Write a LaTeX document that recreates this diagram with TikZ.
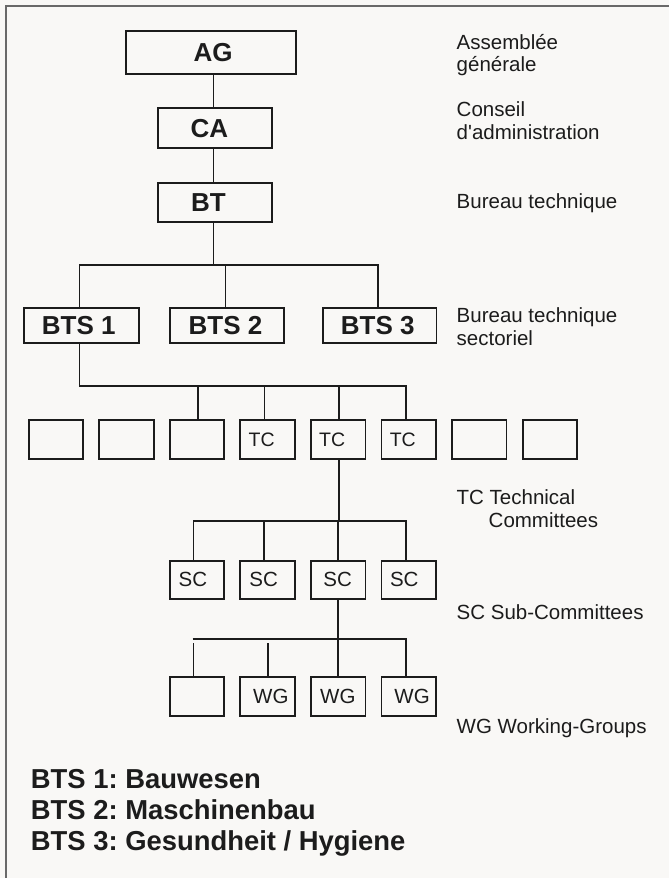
\documentclass[tikz,border=0pt]{standalone}
\usepackage{fontspec}
\setmainfont{Liberation Sans}
\definecolor{bg}{RGB}{249,248,246}
\definecolor{ink}{RGB}{28,28,28}
\definecolor{framec}{RGB}{105,105,105}
\newcommand{\sx}[2]{\kern#1pt #2\kern-#1pt}
\frenchspacing
\begin{document}
\begin{tikzpicture}[x=1pt,y=-1pt,
  box/.style={draw=ink, line width=1.8pt, inner sep=0pt, text=ink},
  big/.style={box, font=\fontsize{26}{30}\selectfont\bfseries},
  small/.style={box, minimum width=54.5pt, minimum height=39pt, font=\fontsize{20.5}{24}\selectfont},
  lbl/.style={anchor=base west, inner sep=0pt, font=\fontsize{20.5}{24}\selectfont, text=ink},
  note/.style={anchor=base west, inner sep=0pt, font=\fontsize{27.4}{30}\selectfont\bfseries, text=ink},
  conn/.style={draw=ink, line width=1.6pt, line join=miter}]
\fill[bg] (0,0) rectangle (669,878);
\useasboundingbox (0,0) rectangle (669,878);
\draw[framec, line width=2pt] (5.5,878) -- (5.5,5.7) -- (669,5.7);

% top chain
\node[big, minimum width=170pt, minimum height=43pt] (ag) at (211,52.7) {\sx{2}{AG}};
\node[big, minimum width=114.4pt, minimum height=40pt] (ca) at (215,128.3) {\sx{-5.6}{CA}};
\node[big, minimum width=114.4pt, minimum height=39.3pt] (bt) at (215,202.3) {\sx{-6.6}{BT}};
\coordinate (c1) at (213.3,0);
\coordinate (h1) at (0,265);
\coordinate (h2) at (0,385.7);
\coordinate (h3) at (0,521);
\coordinate (h4) at (0,638.7);
\coordinate (h4b) at (0,642.7);
\draw[conn] (ag.south -| c1) -- (ca.north -| c1);
\draw[conn] (ca.south -| c1) -- (bt.north -| c1);
\draw[conn] (bt.south -| c1) -- (h1 -| c1);

% BTS row
\node[big, minimum width=114.7pt, minimum height=35pt] (bts1) at (81.7,325.2) {\sx{-3}{BTS 1}};
\node[big, minimum width=114.3pt, minimum height=35pt] (bts2) at (227,325.2) {\sx{-1.5}{BTS 2}};
\node[big, minimum width=113.4pt, minimum height=35pt] (bts3) at (379.7,325.2) {\sx{-2}{BTS 3}};
\draw[conn] ([xshift=-2.3pt]bts1.north) -- ([xshift=-2.3pt]bts1.north |- h1) -- ([xshift=-1.7pt]bts3.north |- h1) -- ([xshift=-1.7pt]bts3.north);
\draw[conn] ([xshift=-1.7pt]bts2.north) -- ([xshift=-1.7pt]bts2.north |- h1);

% TC row
\foreach \i/\t in {1/,2/,3/,4/TC,5/TC,6/TC,7/,8/}
  \node[small] (tc\i) at ({55.9+70.57*(\i-1)},439.5) {\fontsize{19.5}{22}\selectfont\sx{-6}{\t}};
\draw[conn] ([xshift=-2.3pt]bts1.south) -- ([xshift=-2.3pt]bts1.south |- h2) -- ([xshift=-3pt]tc6.north |- h2) -- ([xshift=-3pt]tc6.north);
\draw[conn] ([xshift=1pt]tc3.north) -- ([xshift=1pt]tc3.north |- h2);
\draw[conn] ([xshift=-3pt]tc4.north) -- ([xshift=-3pt]tc4.north |- h2);
\draw[conn] ([xshift=1pt]tc5.north) -- ([xshift=1pt]tc5.north |- h2);

% SC row
\node[small, minimum height=38pt] (sc1) at (197.1,579.7) {\sx{-4.2}{SC}};
\node[small, minimum height=38pt] (sc2) at (267.6,579.7) {\sx{-4}{SC}};
\node[small, minimum height=38pt] (sc3) at (338.2,579.7) {\sx{-0.5}{SC}};
\node[small, minimum height=38pt] (sc4) at (408.8,579.7) {\sx{-4.5}{SC}};
\draw[conn] ([xshift=1pt]tc5.south) -- ([xshift=1pt]tc5.south |- h3);
\draw[conn] ([xshift=-3.6pt]sc1.north) -- ([xshift=-3.6pt]sc1.north |- h3) -- ([xshift=-3pt]sc4.north |- h3) -- ([xshift=-3pt]sc4.north);
\draw[conn] ([xshift=-3.5pt]sc2.north) -- ([xshift=-3.5pt]sc2.north |- h3);
\draw[conn] (sc3.north) -- (sc3.north |- h3);

% WG row
\node[small, minimum height=38.7pt] (wg1) at (197.1,696.7) {};
\node[small, minimum height=38.7pt] (wg2) at (267.6,696.7) {\sx{3.2}{WG}};
\node[small, minimum height=38.7pt] (wg3) at (338.2,696.7) {\sx{-0.4}{WG}};
\node[small, minimum height=38.7pt] (wg4) at (408.8,696.7) {\sx{3.3}{WG}};
\draw[conn] (sc3.south) -- (sc3.south |- h4);
\draw[conn] ([xshift=-4.4pt]wg1.north |- h4) -- ([xshift=-3pt]wg4.north |- h4) -- ([xshift=-3pt]wg4.north);
\draw[conn] ([xshift=-3.6pt]wg1.north) -- ([xshift=-3.6pt]wg1.north |- h4b);
\draw[conn] ([xshift=0.2pt]wg2.north) -- ([xshift=0.2pt]wg2.north |- h4b);
\draw[conn] (wg3.north) -- (wg3.north |- h4);

% right labels
\node[lbl] (l1a) at (456.5,49.3) {Assemblée};
\node[lbl] (l1b) at (456.5,71.7) {générale};
\node[lbl] (l2a) at (456.5,116.7) {Conseil};
\node[lbl] (l2b) at (456.5,139.3) {d\textquotesingle administration};
\node[lbl] (l3) at (456.5,208.3) {Bureau technique};
\node[lbl] (l4a) at (456.5,322.3) {Bureau technique};
\node[lbl] (l4b) at (456.5,345) {sectoriel};
\node[lbl] (l5a) at (456.5,504.3) {TC Technical};
\node[lbl] (l5b) at (488.5,527) {Committees};
\node[lbl] (l6) at (456.5,619) {SC Sub-Committees};
\node[lbl] (l7) at (456.5,733.3) {WG Working-Groups};

% bottom notes
\node[note] (n1) at (30.7,788.3) {BTS 1: Bauwesen};
\node[note] (n2) at (30.7,819.5) {BTS 2: Maschinenbau};
\node[note] (n3) at (30.7,850.7) {BTS 3: Gesundheit / Hygiene};
\end{tikzpicture}
\end{document}
